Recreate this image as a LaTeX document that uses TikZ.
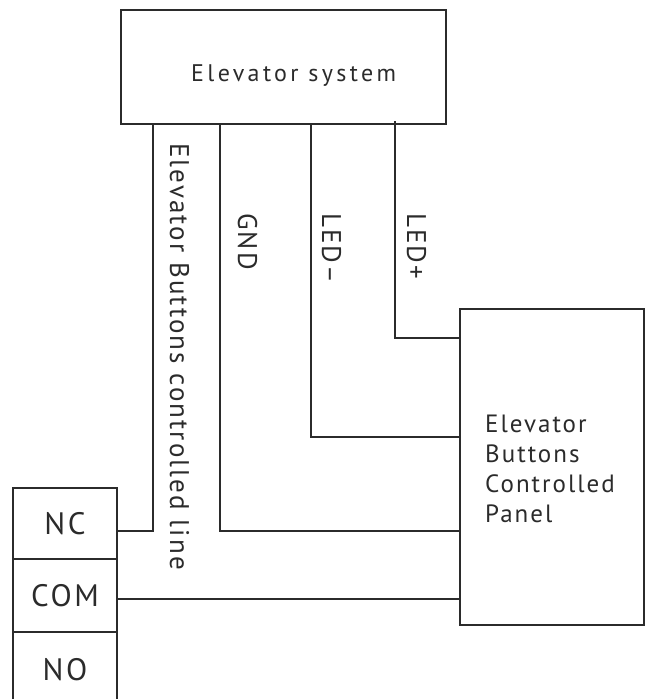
\documentclass[tikz,border=0pt]{standalone}
\usepackage{fontspec}
\setmainfont{PT Sans}
\newfontfamily\spfont[LetterSpace=8]{PT Sans}
\newfontfamily\wideFont[LetterSpace=14]{PT Sans}
\definecolor{ink}{HTML}{2B2B2B}
\begin{document}
\begin{tikzpicture}[x=1pt,y=-1pt,
  box/.style={draw=ink, line width=1.3pt, inner sep=0pt},
  wire/.style={draw=ink, line width=1.2pt},
  lbl/.style={inner sep=0pt, text=ink, font=\spfont\fontsize{24}{28}\selectfont},
  vlbl/.style={inner sep=0pt, text=ink, rotate=-90, anchor=base west, font=\spfont\fontsize{27}{30}\selectfont},
  term/.style={box, minimum width=104pt, text=ink, font=\spfont\fontsize{31}{34}\selectfont}]
\useasboundingbox (0,0) rectangle (646,699);
% boxes
\node[box, minimum width=325pt, minimum height=114pt] (sys) at (283.5,67) {};
\node[lbl, anchor=base west, font=\wideFont\fontsize{24}{28}\selectfont] (systxt) at (191,81) {Elevator system};
\node[box, minimum width=184pt, minimum height=316pt] (panel) at (552,467) {};
\node[lbl, anchor=base west, align=left, font=\spfont\fontsize{25}{30}\selectfont] (paneltxt) at (485,522) {Elevator\\Buttons\\Controlled\\Panel};
\node[term, minimum height=71pt] (nc) at (65,523.5) {NC};
\node[term, minimum height=73pt] (com) at (65,595.5) {COM};
\node[term, minimum height=76pt] (no) at (65,670) {NO};
% tap points
\coordinate (t1) at (153,124);
\coordinate (t2) at (220,124);
\coordinate (t3) at (311,124);
\coordinate (t4) at (395,121);
\coordinate (ncp) at (117,531);
\coordinate (p1) at (460,338);
\coordinate (p2) at (460,437);
\coordinate (p3) at (460,531);
\coordinate (p4) at (460,599);
\coordinate (comp) at (117,599);
% wires
\draw[wire] (ncp) -| (t1);
\draw[wire] (t2) |- (p3);
\draw[wire] (t3) |- (p2);
\draw[wire] (t4) |- (p1);
\draw[wire] (comp) -- (p4);
% labels
\node[vlbl] (l1) at (170,143) {Elevator Buttons controlled line};
\node[vlbl] (l2) at (238,213) {GND};
\node[vlbl] (l3) at (322,213) {LED–};
\node[vlbl] (l4) at (407,213) {LED+};
\end{tikzpicture}
\end{document}
